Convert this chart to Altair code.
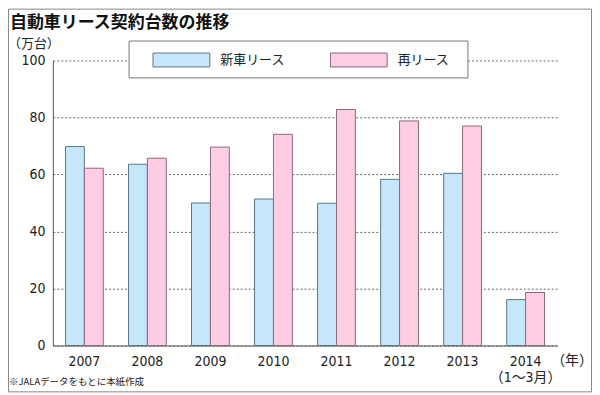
import altair as alt
import pandas as pd

years = ["2007", "2008", "2009", "2010", "2011", "2012", "2013", "2014"]
new_lease = [69.8, 63.6, 50.0, 51.4, 49.9, 58.3, 60.4, 16.1]
re_lease = [62.2, 65.7, 69.6, 74.1, 82.8, 78.8, 77.0, 18.6]
series_names = ["新車リース", "再リース"]
fill_colors = ["#c6e7f9", "#fccde3"]
stroke_colors = ["#5f7480", "#8a6a7b"]
y_ticks = [0, 20, 40, 60, 80, 100]

title_text = "自動車リース契約台数の推移"
unit_text = "（万台）"
year_unit_text = "（年）"
note_text = "※JALAデータをもとに本紙作成"
last_label_note = "（1～3月）"

rows = []
for i, yr in enumerate(years):
    rows.append({"year": yr, "series": series_names[0], "value": new_lease[i]})
    rows.append({"year": yr, "series": series_names[1], "value": re_lease[i]})
df = pd.DataFrame(rows)

W, H = 506, 286
PL, PT = 45, 52
TOTAL_W, TOTAL_H = 586, 385

NUM_FONT = "DejaVu Sans Condensed, Liberation Sans Narrow, Noto Sans CJK JP"
JP_FONT = "Noto Sans CJK JP"

label_expr = "datum.value == '%s' ? ['%s', '%s'] : datum.value" % (years[-1], years[-1], last_label_note)

bars = alt.Chart(df).mark_bar(strokeWidth=1, opacity=1).encode(
    x=alt.X("year:N", sort=years,
            scale=alt.Scale(paddingInner=0.4, paddingOuter=0.2),
            axis=alt.Axis(title=None, labelAngle=0, ticks=False, grid=False,
                          domainColor="#555", domainWidth=1,
                          labelFont=NUM_FONT, labelFontSize=14, labelColor="#222",
                          labelPadding=9, labelLineHeight=16, labelExpr=label_expr)),
    xOffset=alt.XOffset("series:N", sort=series_names,
                        scale=alt.Scale(domain=series_names, paddingInner=0, paddingOuter=0)),
    y=alt.Y("value:Q", scale=alt.Scale(domain=[0, 100]),
            axis=alt.Axis(values=y_ticks, title=None, ticks=False, grid=True,
                          gridDash=[2, 2], gridColor="#666", gridWidth=1,
                          domainColor="#555", domainWidth=1,
                          labelFont=NUM_FONT, labelFontSize=14, labelColor="#222",
                          labelPadding=8)),
    fill=alt.Fill("series:N", sort=series_names,
                  scale=alt.Scale(domain=series_names, range=fill_colors),
                  legend=alt.Legend(orient="none", legendX=100, legendY=-29.5,
                                    direction="horizontal", title=None,
                                    symbolType="M-1,-0.245H1V0.245H-1Z",
                                    symbolSize=3249, symbolStrokeColor="#777",
                                    symbolStrokeWidth=1, symbolOpacity=1,
                                    labelFont=JP_FONT, labelFontSize=13,
                                    labelColor="#222", labelOffset=10,
                                    columnPadding=42, padding=0)),
    stroke=alt.Stroke("series:N", sort=series_names,
                      scale=alt.Scale(domain=series_names, range=stroke_colors),
                      legend=None),
)

one = alt.Data(values=[{"k": 1}])

frame = alt.Chart(one).mark_rect(fill="white", fillOpacity=0, stroke="#888", strokeWidth=1).encode(
    x=alt.value(-PL + 0.5), x2=alt.value(TOTAL_W - PL - 0.5),
    y=alt.value(-PT + 0.5), y2=alt.value(TOTAL_H - PT - 0.5))

legend_box = alt.Chart(one).mark_rect(fill="white", stroke="#777", strokeWidth=1).encode(
    x=alt.value(76.5), x2=alt.value(416.5), y=alt.value(-19.5), y2=alt.value(17.5))

title = alt.Chart(alt.Data(values=[{"t": title_text}])).mark_text(
    align="left", baseline="alphabetic", font=JP_FONT, fontWeight="bold",
    fontSize=17, color="#111").encode(
    x=alt.value(-PL + 2), y=alt.value(-33), text="t:N")

unit = alt.Chart(alt.Data(values=[{"t": unit_text}])).mark_text(
    align="center", baseline="middle", font=JP_FONT, fontSize=13, color="#222").encode(
    x=alt.value(-19), y=alt.value(-17), text="t:N")

year_unit = alt.Chart(alt.Data(values=[{"t": year_unit_text}])).mark_text(
    align="center", baseline="middle", font=JP_FONT, fontSize=14, color="#222").encode(
    x=alt.value(521), y=alt.value(302), text="t:N")

note = alt.Chart(alt.Data(values=[{"t": note_text}])).mark_text(
    align="left", baseline="middle", font=JP_FONT, fontSize=9.5, color="#222").encode(
    x=alt.value(-PL + 1), y=alt.value(323), text="t:N")

chart = alt.layer(frame, legend_box, bars, title, unit, year_unit, note).properties(
    width=W, height=H,
    padding={"left": PL, "top": PT, "right": TOTAL_W - PL - W, "bottom": TOTAL_H - PT - H},
    autosize=alt.AutoSizeParams(type="none"),
    background="white",
).configure_view(strokeWidth=0)

chart.save("out.html", embed_options={"renderer": "svg", "actions": False})
